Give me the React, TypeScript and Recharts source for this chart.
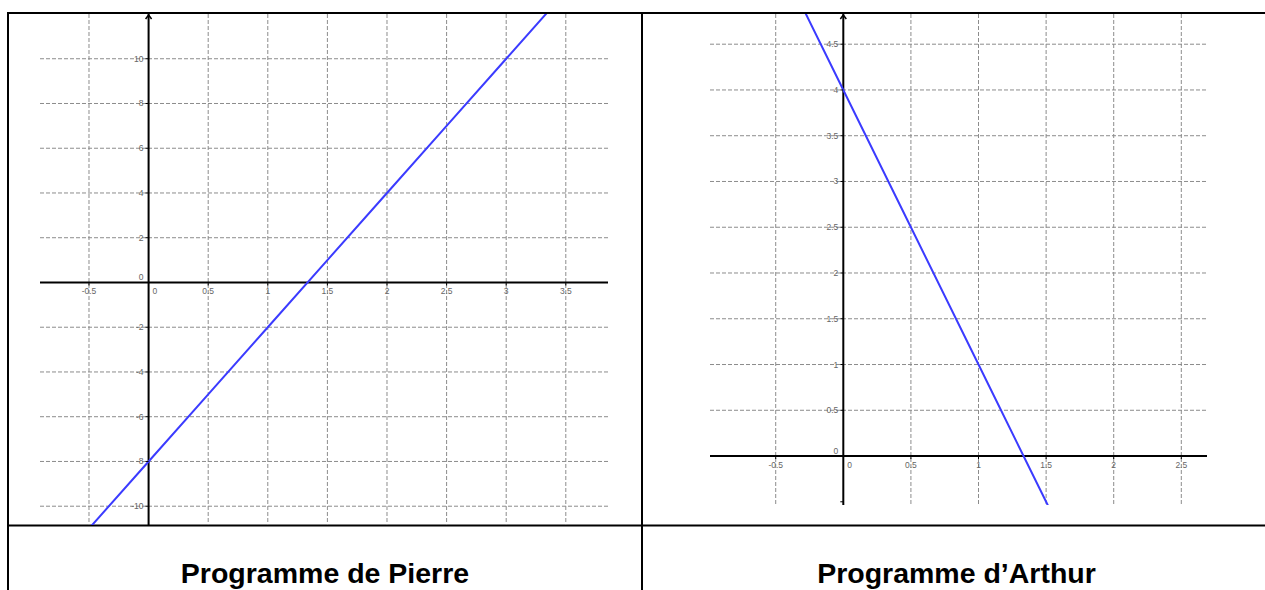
import React from 'react';
import { LineChart, Line, XAxis, YAxis, CartesianGrid, ReferenceLine, ReferenceDot } from 'recharts';

// Programme de Pierre
const pierreX = [-0.5, 0, 0.5, 1, 1.5, 2, 2.5, 3, 3.5];
const pierreY = [-11, -8, -5, -2, 1, 4, 7, 10, 13];
const pierreXTicks = [-0.5, 0, 0.5, 1, 1.5, 2, 2.5, 3, 3.5];
const pierreYTicks = [-10, -8, -6, -4, -2, 0, 2, 4, 6, 8, 10];
const pierreYLabels = [-10, -8, -6, -4, -2, 0, 2, 4, 6, 8, 10];
const pierreXDomain = [-0.911, 3.854];
const pierreYDomain = [-10.84, 12.0];

// Programme d'Arthur
const arthurX = [-0.5, 0, 0.5, 1, 1.5, 2];
const arthurY = [5.5, 4, 2.5, 1, -0.5, -2];
const arthurXTicks = [-0.5, 0, 0.5, 1, 1.5, 2, 2.5];
const arthurYTicks = [-0.5, 0, 0.5, 1, 1.5, 2, 2.5, 3, 3.5, 4, 4.5];
const arthurYLabels = [0, 0.5, 1, 1.5, 2, 2.5, 3, 3.5, 4, 4.5];
const arthurXDomain = [-0.986, 2.69];
const arthurYDomain = [-0.535, 4.83];

const titles = ['Programme de Pierre', 'Programme d\u2019Arthur'];

const FONT = '"Liberation Sans", Arial, sans-serif';
const LABEL_COLOR = '#666';

type GraphProps = {
  xs: number[];
  ys: number[];
  xTicks: number[];
  yTicks: number[];
  yLabels: number[];
  xDomain: number[];
  yDomain: number[];
  left: number;
  top: number;
  width: number;
  height: number;
};

function Graph({ xs, ys, xTicks, yTicks, yLabels, xDomain, yDomain, left, top, width, height }: GraphProps) {
  const data = xs.map((x, i) => ({ x, y: ys[i] }));
  return (
    <div style={{ position: 'absolute', left, top, width, height }}>
      <LineChart width={width} height={height} data={data} margin={{ top: 0, right: 0, bottom: 0, left: 0 }}>
        <XAxis dataKey="x" type="number" domain={xDomain} ticks={xTicks} allowDataOverflow hide />
        <YAxis type="number" domain={yDomain} ticks={yTicks} allowDataOverflow hide />
        <CartesianGrid
          strokeDasharray="4 2"
          stroke="#8c8c8c"
          strokeWidth={1}
          verticalValues={xTicks.filter((t) => t !== 0)}
          horizontalValues={yTicks.filter((t) => t !== 0)}
        />
        <ReferenceLine y={0} stroke="#000" strokeWidth={2} />
        <ReferenceLine x={0} stroke="#000" strokeWidth={2} />
        <ReferenceDot
          x={0}
          y={yDomain[1]}
          r={0}
          ifOverflow="visible"
          shape={(p: any) => (
            <path
              d={`M${p.cx - 3},${p.cy + 5} L${p.cx},${p.cy + 1} L${p.cx + 3},${p.cy + 5}`}
              stroke="#000"
              strokeWidth={1.5}
              fill="none"
            />
          )}
        />
        {xTicks.map((t) => (
          <ReferenceDot
            key={'xt' + t}
            x={t}
            y={0}
            r={0}
            ifOverflow="visible"
            shape={(p: any) => (
              <g>
                {t !== 0 && <line x1={p.cx} y1={p.cy} x2={p.cx} y2={p.cy + 3} stroke="#000" strokeWidth={1} />}
                <text
                  x={t === 0 ? p.cx + 4 : p.cx}
                  y={p.cy + 12}
                  textAnchor={t === 0 ? 'start' : 'middle'}
                  fontSize={8.5}
                  fontFamily={FONT}
                  fill={LABEL_COLOR}
                >
                  {String(t)}
                </text>
              </g>
            )}
          />
        ))}
        {yTicks.map((t) => (
          <ReferenceDot
            key={'yt' + t}
            x={0}
            y={t}
            r={0}
            ifOverflow="visible"
            shape={(p: any) => (
              <g>
                {t !== 0 && <line x1={p.cx - 3} y1={p.cy} x2={p.cx} y2={p.cy} stroke="#000" strokeWidth={1} />}
                {yLabels.includes(t) && (
                  <text
                    x={p.cx - 5}
                    y={t === 0 ? p.cy - 2 : p.cy + 3}
                    textAnchor="end"
                    fontSize={8.5}
                    fontFamily={FONT}
                    fill={LABEL_COLOR}
                  >
                    {String(t)}
                  </text>
                )}
              </g>
            )}
          />
        ))}
        <Line type="linear" dataKey="y" stroke="#3b3bff" strokeWidth={2} dot={false} activeDot={false} isAnimationActive={false} />
      </LineChart>
    </div>
  );
}

export default function App() {
  return (
    <div style={{ position: 'fixed', left: 0, top: 0, width: 1265, height: 590, background: '#fff', overflow: 'hidden' }}>
      <svg width={1265} height={590} style={{ position: 'absolute', left: 0, top: 0 }}>
        <line x1={7} y1={13} x2={1265} y2={13} stroke="#000" strokeWidth={2} />
        <line x1={8} y1={12} x2={8} y2={590} stroke="#000" strokeWidth={2} />
        <line x1={642} y1={12} x2={642} y2={590} stroke="#000" strokeWidth={2} />
        <line x1={7} y1={525.5} x2={1265} y2={525.5} stroke="#000" strokeWidth={2} />
        <text x={325} y={583} textAnchor="middle" fontSize={28.5} fontWeight="bold" fontFamily={FONT} fill="#000">
          {titles[0]}
        </text>
        <text x={956.5} y={583} textAnchor="middle" fontSize={28.5} fontWeight="bold" fontFamily={FONT} fill="#000">
          {titles[1]}
        </text>
      </svg>
      <Graph
        xs={pierreX}
        ys={pierreY}
        xTicks={pierreXTicks}
        yTicks={pierreYTicks}
        yLabels={pierreYLabels}
        xDomain={pierreXDomain}
        yDomain={pierreYDomain}
        left={40}
        top={14}
        width={568}
        height={511}
      />
      <Graph
        xs={arthurX}
        ys={arthurY}
        xTicks={arthurXTicks}
        yTicks={arthurYTicks}
        yLabels={arthurYLabels}
        xDomain={arthurXDomain}
        yDomain={arthurYDomain}
        left={710}
        top={14}
        width={497}
        height={491}
      />
    </div>
  );
}
